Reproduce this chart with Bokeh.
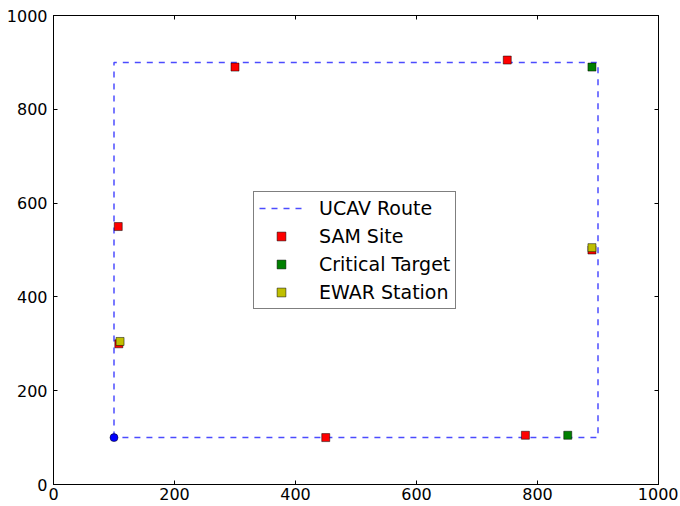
from bokeh.plotting import figure
from bokeh.models import Range1d, LinearAxis, FixedTicker, Legend, LegendItem
from bokeh.embed import file_html
from bokeh.resources import INLINE

# data
route_x = [100, 100, 900, 900, 100]
route_y = [100, 900, 900, 100, 100]
start_x = [100]
start_y = [100]
sam_x = [107, 300, 750, 450, 780, 890, 108]
sam_y = [550, 890, 905, 100, 105, 500, 300]
target_x = [890, 850]
target_y = [890, 105]
ewar_x = [890, 110]
ewar_y = [505, 305]
ticks = [0, 200, 400, 600, 800, 1000]

FONT = "DejaVu Sans"

p = figure(output_backend="svg", toolbar_location=None,
           frame_width=605, frame_height=469,
           min_border_left=53, min_border_right=20, min_border_top=15, min_border_bottom=18,
           x_range=Range1d(0, 1000), y_range=Range1d(0, 1000))
p.grid.visible = False
p.outline_line_color = "black"
p.outline_line_width = 1
p.background_fill_color = "white"
p.border_fill_color = "white"

for ax in (p.xaxis[0], p.yaxis[0]):
    ax.ticker = FixedTicker(ticks=ticks)
    ax.major_tick_in = 4
    ax.major_tick_out = 0
    ax.minor_tick_line_color = None
    ax.major_label_text_font = FONT
    ax.major_label_text_font_size = "16px"
    ax.major_label_text_color = "black"
    ax.axis_line_color = "black"
p.xaxis.major_label_standoff = 3
p.yaxis.major_label_standoff = 6

for side in ("above", "right"):
    a = LinearAxis(ticker=FixedTicker(ticks=ticks), major_tick_in=4, major_tick_out=0,
                   minor_tick_line_color=None,
                   major_label_overrides={t: "" for t in ticks},
                   major_label_text_font_size="0px", major_label_standoff=0)
    p.add_layout(a, side)

r_route = p.line(route_x, route_y, line_color="blue", line_alpha=0.7,
                 line_width=1.5, line_dash="6 6")
p.scatter(start_x, start_y, marker="circle", size=8, fill_color="blue",
          line_color="black", line_width=0.5)
r_sam = p.scatter(sam_x, sam_y, marker="square", size=8, fill_color="red",
                  line_color="black", line_width=0.5)
r_tgt = p.scatter(target_x, target_y, marker="square", size=8, fill_color="#008000",
                  line_color="black", line_width=0.5)
r_ewar = p.scatter(ewar_x, ewar_y, marker="square", size=8, fill_color="#bfbf00",
                   line_color="black", line_width=0.5)

legend = Legend(items=[
    LegendItem(label="UCAV Route", renderers=[r_route]),
    LegendItem(label="SAM Site", renderers=[r_sam]),
    LegendItem(label="Critical Target", renderers=[r_tgt]),
    LegendItem(label="EWAR Station", renderers=[r_ewar]),
], location=(200, 175))
legend.label_text_font = FONT
legend.label_text_font_size = "19px"
legend.label_text_color = "black"
legend.glyph_width = 44
legend.glyph_height = 22
legend.label_height = 22
legend.label_standoff = 16
legend.spacing = 6
legend.padding = 5
legend.margin = 0
legend.border_line_color = "black"
legend.border_line_width = 1
legend.background_fill_alpha = 1
p.add_layout(legend, "center")

open("out.html", "w").write(file_html(p, INLINE))
